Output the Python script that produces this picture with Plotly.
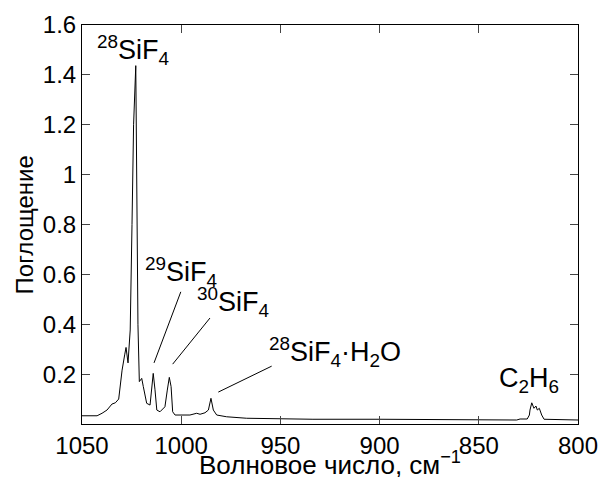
import plotly.graph_objects as go

wavenumber = [1050.0, 1042.4, 1039.9, 1037.4, 1034.9, 1033.2, 1031.5, 1029.8, 1028.5, 1027.8,
              1026.8, 1025.7, 1024.8, 1024.0, 1022.9, 1022.3, 1021.8, 1021.1, 1019.9, 1019.1,
              1017.4, 1015.7, 1014.9, 1014.1, 1013.2, 1012.3, 1010.7, 1008.2, 1007.0, 1006.0,
              1005.1, 1004.3, 1003.1, 995.6, 992.2, 990.5, 988.0, 986.3, 985.0, 983.8,
              982.1, 977.1, 967.0, 960.3, 933.6, 899.8, 879.6, 869.6, 830.9, 829.2,
              825.6, 824.5, 824.2, 823.3, 822.2, 821.2, 820.5, 819.5, 818.3, 817.1,
              800.7, 800.0]
absorbance = [0.033, 0.033, 0.043, 0.056, 0.080, 0.085, 0.100, 0.216, 0.277, 0.307,
              0.245, 0.377, 0.800, 1.200, 1.437, 0.900, 0.400, 0.170, 0.183, 0.150,
              0.083, 0.076, 0.137, 0.203, 0.137, 0.056, 0.049, 0.069, 0.136, 0.187,
              0.150, 0.049, 0.036, 0.036, 0.043, 0.039, 0.045, 0.056, 0.103, 0.056,
              0.036, 0.029, 0.023, 0.022, 0.019, 0.019, 0.018, 0.017, 0.016, 0.020,
              0.020, 0.036, 0.056, 0.085, 0.063, 0.072, 0.056, 0.063, 0.036, 0.019,
              0.016, 0.016]

y_ticks = [0.2, 0.4, 0.6, 0.8, 1.0, 1.2, 1.4, 1.6]
y_tick_labels = ["0.2", "0.4", "0.6", "0.8", "1", "1.2", "1.4", "1.6"]
x_ticks = [1050, 1000, 950, 900, 850, 800]

# labels: (text, label x, label y, line from (x,y) to (x,y) or None)
labels = [
    ("<sup>28</sup>SiF<sub>4</sub>", 1024.3, 1.50, None),
    ("<sup>29</sup>SiF<sub>4</sub>", 1000.0, 0.61, (1013.7, 0.245, 1000.2, 0.530)),
    ("<sup>30</sup>SiF<sub>4</sub>", 974.0, 0.49, (1004.3, 0.240, 985.5, 0.425)),
    ("<sup>28</sup>SiF<sub>4</sub>·H<sub>2</sub>O", 922.5, 0.29, (981.3, 0.128, 954.4, 0.232)),
    ("C<sub>2</sub>H<sub>6</sub>", 824.5, 0.175, None),
]

FONT = "Liberation Sans"

fig = go.Figure()
fig.add_trace(go.Scatter(x=wavenumber, y=absorbance, mode="lines",
                         line=dict(color="black", width=1), showlegend=False))

for text, lx, ly, seg in labels:
    fig.add_annotation(x=lx, y=ly, text=text, showarrow=False, xref="x", yref="y",
                       font=dict(family=FONT, size=27, color="black"))
    if seg is not None:
        fig.add_shape(type="line", x0=seg[0], y0=seg[1], x1=seg[2], y1=seg[3],
                      xref="x", yref="y", line=dict(color="black", width=1))

fig.add_annotation(x=0.5, y=-0.098, xref="paper", yref="paper", yanchor="middle",
                   text="Волновое число, см<sup>−1</sup>", showarrow=False,
                   font=dict(family=FONT, size=26, color="black"))
fig.add_annotation(x=-0.115, y=0.5, xref="paper", yref="paper", textangle=-90,
                   xanchor="center", yanchor="middle",
                   text="Поглощение", showarrow=False,
                   font=dict(family=FONT, size=24, color="black"))

fig.update_layout(
    width=600, height=477,
    margin=dict(l=82, r=22, t=25, b=53, autoexpand=False),
    paper_bgcolor="white", plot_bgcolor="white",
    font=dict(family=FONT, size=24, color="black"),
)
fig.update_xaxes(range=[1050, 800], tickvals=x_ticks, ticks="inside", ticklen=8,
                 showline=True, linecolor="black", linewidth=1, mirror="ticks",
                 showgrid=False, zeroline=False, tickfont=dict(size=24),
                 automargin=False)
fig.update_yaxes(range=[0, 1.6], tickvals=y_ticks, ticktext=y_tick_labels,
                 ticks="inside", ticklen=8,
                 showline=True, linecolor="black", linewidth=1, mirror="ticks",
                 showgrid=False, zeroline=False, tickfont=dict(size=24),
                 automargin=False)

fig.write_html(
    "out.html",
    config={"displayModeBar": False},
    post_script="document.body.style.margin='0';document.documentElement.style.overflow='hidden';",
)
